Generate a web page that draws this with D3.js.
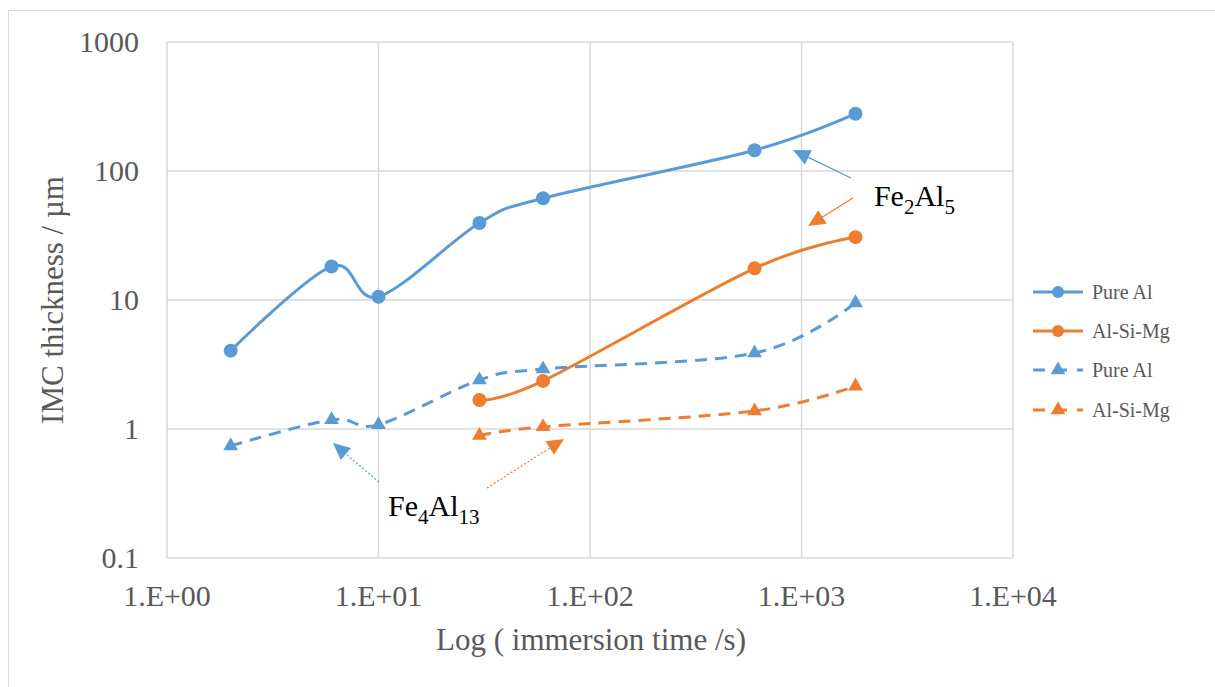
<!DOCTYPE html>
<html>
<head>
<meta charset="utf-8">
<script src="https://cdn.jsdelivr.net/npm/d3@7"></script>
<style>
  body { margin: 0; background: #fff; }
  svg { display: block; }
  svg text { font-family: "Liberation Serif", "DejaVu Serif", serif; }
</style>
</head>
<body>
<svg id="chart" width="1215" height="687"></svg>
<script>
// immersion time (s) and IMC thickness (um)
var timesPure = [2, 6, 10, 30, 60, 600, 1800];
var timesAlloy = [30, 60, 600, 1800];
var fe2al5Pure = [4.05, 18.2, 10.6, 39.5, 61.5, 145, 278];
var fe2al5Alloy = [1.68, 2.36, 17.6, 30.7];
var fe4al13Pure = [0.74, 1.18, 1.08, 2.4, 2.92, 3.88, 9.5];
var fe4al13Alloy = [0.89, 1.04, 1.38, 2.15];

var xTicks = [1, 10, 100, 1000, 10000];
var xTickLabels = ["1.E+00", "1.E+01", "1.E+02", "1.E+03", "1.E+04"];
var yTicks = [0.1, 1, 10, 100, 1000];
var yTickLabels = ["0.1", "1", "10", "100", "1000"];

var blue = "#5b9bd5", orange = "#ed7d31";

var series = [
  { name: "Pure Al", x: timesPure, y: fe2al5Pure, color: blue, dashed: false },
  { name: "Al-Si-Mg", x: timesAlloy, y: fe2al5Alloy, color: orange, dashed: false },
  { name: "Pure Al", x: timesPure, y: fe4al13Pure, color: blue, dashed: true },
  { name: "Al-Si-Mg", x: timesAlloy, y: fe4al13Alloy, color: orange, dashed: true }
];

// callouts, in data units: [fromX, fromY, tipX, tipY]
var arrows = [
  { p: [1714, 88.3, 912, 145.5], color: blue, dotted: false },
  { p: [1751, 61.8, 1074, 37.5], color: orange, dotted: false },
  { p: [10.05, 0.388, 6.09, 0.779], color: blue, dotted: true },
  { p: [32.6, 0.349, 75.4, 0.837], color: orange, dotted: true }
];

var svg = d3.select("#chart");
var serif = "'Liberation Serif', 'DejaVu Serif', serif";

var x = d3.scaleLog().domain([1, 10000]).range([167, 1013]);
var y = d3.scaleLog().domain([0.1, 1000]).range([558, 42]);

// outer chart border
svg.append("rect")
   .attr("x", 8.5).attr("y", 10.5)
   .attr("width", 1230).attr("height", 700)
   .attr("fill", "none").attr("stroke", "#d9d9d9");

// grid
var grid = svg.append("g");
grid.selectAll(".vg").data(xTicks).enter().append("line")
    .attr("x1", function(d) { return x(d); }).attr("x2", function(d) { return x(d); })
    .attr("y1", y(1000)).attr("y2", y(0.1))
    .attr("stroke", "#d9d9d9").attr("stroke-width", 1.5);
grid.selectAll(".hg").data(yTicks).enter().append("line")
    .attr("x1", x(1)).attr("x2", x(10000))
    .attr("y1", function(d) { return y(d); }).attr("y2", function(d) { return y(d); })
    .attr("stroke", "#d9d9d9").attr("stroke-width", 1.5);

// tick labels
svg.selectAll(".xt").data(xTicks).enter().append("text")
   .attr("x", function(d) { return x(d); })
   .attr("y", 606)
   .attr("text-anchor", "middle")
   .attr("font-family", serif)
   .attr("font-size", 30)
   .attr("fill", "#595959")
   .text(function(d, i) { return xTickLabels[i]; });

svg.selectAll(".yt").data(yTicks).enter().append("text")
   .attr("x", 139)
   .attr("y", function(d) { return y(d) + 10; })
   .attr("text-anchor", "end")
   .attr("font-family", serif)
   .attr("font-size", 30)
   .attr("fill", "#595959")
   .text(function(d, i) { return yTickLabels[i]; });

// axis titles
svg.append("text")
   .attr("x", 591).attr("y", 650)
   .attr("text-anchor", "middle")
   .attr("font-family", serif)
   .attr("font-size", 31)
   .attr("fill", "#595959")
   .text("Log ( immersion time /s)");

svg.append("text")
   .attr("transform", "translate(63,300) rotate(-90)")
   .attr("text-anchor", "middle")
   .attr("font-family", serif)
   .attr("font-size", 31)
   .attr("fill", "#595959")
   .text("IMC thickness / µm");

// series
var line = d3.line()
    .x(function(d) { return x(d[0]); })
    .y(function(d) { return y(d[1]); })
    .curve(d3.curveCardinal.tension(0));

var tri = d3.symbol().type(d3.symbolTriangle).size(95);

series.forEach(function(s) {
   var pts = s.x.map(function(t, i) { return [t, s.y[i]]; });
   svg.append("path")
      .datum(pts)
      .attr("d", line)
      .attr("fill", "none")
      .attr("stroke", s.color)
      .attr("stroke-width", 3)
      .attr("stroke-dasharray", s.dashed ? "12,8" : null);

   if (s.dashed) {
      svg.selectAll(null).data(pts).enter().append("path")
         .attr("d", tri)
         .attr("transform", function(d) { return "translate(" + x(d[0]) + "," + y(d[1]) + ")"; })
         .attr("fill", s.color);
   } else {
      svg.selectAll(null).data(pts).enter().append("circle")
         .attr("cx", function(d) { return x(d[0]); })
         .attr("cy", function(d) { return y(d[1]); })
         .attr("r", 7)
         .attr("fill", s.color);
   }
});

// callout arrows
arrows.forEach(function(a) {
   var x1 = x(a.p[0]), y1 = y(a.p[1]), x2 = x(a.p[2]), y2 = y(a.p[3]);
   var ang = Math.atan2(y2 - y1, x2 - x1);
   var len = 17, half = 8;
   var bx = x2 - len * Math.cos(ang), by = y2 - len * Math.sin(ang);
   svg.append("line")
      .attr("x1", x1).attr("y1", y1).attr("x2", bx).attr("y2", by)
      .attr("stroke", a.color)
      .attr("stroke-width", a.dotted ? 1.2 : 1.3)
      .attr("stroke-dasharray", a.dotted ? "2,2" : null);
   var pts = [
      [x2, y2],
      [bx + half * Math.sin(ang), by - half * Math.cos(ang)],
      [bx - half * Math.sin(ang), by + half * Math.cos(ang)]
   ];
   svg.append("path")
      .attr("d", "M" + pts.join("L") + "Z")
      .attr("fill", a.color);
});

// phase labels
function phaseLabel(px, py, parts) {
   var t = svg.append("text")
      .attr("x", x(px)).attr("y", y(py))
      .attr("font-family", serif)
      .attr("font-size", 30)
      .attr("fill", "#000");
   parts.forEach(function(p) {
      t.append("tspan")
       .attr("font-size", p[1] ? 21 : 30)
       .attr("dy", p[1] ? 8 : (p[2] ? -8 : 0))
       .text(p[0]);
   });
}
phaseLabel(2200, 53.5, [["Fe"], ["2", true], ["Al", false, true], ["5", true]]);
phaseLabel(11.1, 0.21, [["Fe"], ["4", true], ["Al", false, true], ["13", true]]);

// legend
var legend = svg.append("g");
var legY = [292, 331, 370, 410];
series.forEach(function(s, i) {
   var g = legend.append("g").attr("transform", "translate(0," + legY[i] + ")");
   g.append("line")
    .attr("x1", 1033).attr("x2", 1083)
    .attr("stroke", s.color).attr("stroke-width", 3)
    .attr("stroke-dasharray", s.dashed ? "12,10" : null);
   if (s.dashed) {
      g.append("path").attr("d", tri).attr("transform", "translate(1058,0)").attr("fill", s.color);
   } else {
      g.append("circle").attr("cx", 1058).attr("r", 6).attr("fill", s.color);
   }
   g.append("text")
    .attr("x", 1092).attr("y", 6.5)
    .attr("font-family", serif)
    .attr("font-size", 20)
    .attr("fill", "#595959")
    .text(s.name);
});
</script>
</body>
</html>
